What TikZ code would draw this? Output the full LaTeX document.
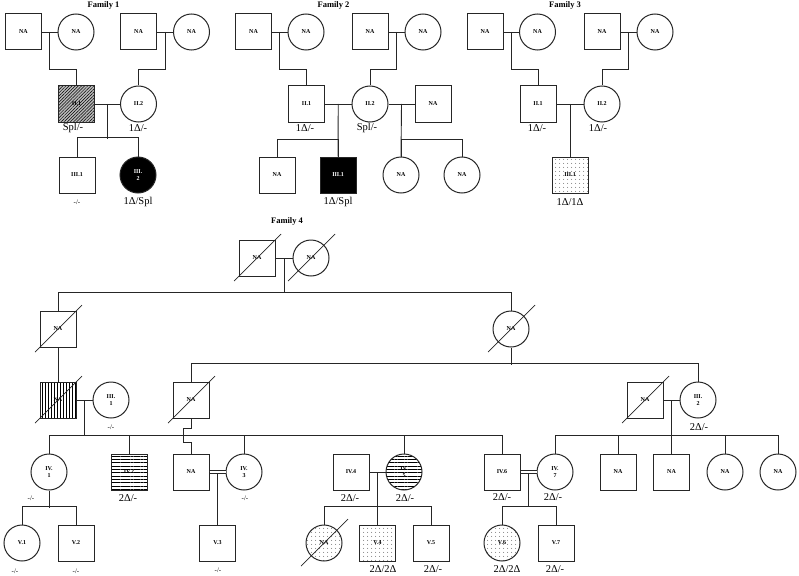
\documentclass[tikz,border=0pt]{standalone}
\usepackage{fontspec}
\setmainfont{Liberation Serif}
\usetikzlibrary{calc, patterns.meta, positioning}
\newcommand{\nafont}{\fontsize{6}{6.5}\selectfont\bfseries}
\newcommand{\genofont}{\fontsize{10.5}{12}\selectfont}
\newcommand{\deadmark}[1]{\draw[line width=0.7pt] ($(#1.center)+(-23,23)$) -- ($(#1.center)+(24,-24)$);}
\tikzset{
  every picture/.style={line width=0.9pt, draw=black!85},
  male/.style={draw, line width=1pt, rectangle, minimum size=36pt, inner sep=0pt, align=center, font=\nafont},
  female/.style={draw, line width=1pt, circle, minimum size=36pt, inner sep=0pt, align=center, font=\nafont},
  plain/.style={},
  dark/.style={fill=black, text=white},
  slant/.style={preaction={fill=gray!55}, pattern={Lines[angle=45, distance=2.2pt, line width=0.5pt]}},
  vlines/.style={pattern={Lines[angle=90, distance=3pt, line width=0.7pt]}},
  hlines/.style={pattern={Lines[angle=0, distance=3.3pt, line width=0.7pt]}},
  speckle/.style={pattern={Dots[distance=4pt, radius=0.45pt]}},
  geno/.style={font=\genofont},
  minus/.style={font=\fontsize{7}{8}\selectfont},
  title/.style={font=\fontsize{8.5}{10}\selectfont\bfseries},
  couple/.style={double, double distance=2.6pt},
}
\begin{document}
\begin{tikzpicture}[x=1pt, y=-1pt]
  \useasboundingbox (0,0) rectangle (799,575);
  % families 1-3: grandparents and parents
  \foreach \f/\xa/\xb/\s in {1/23.5/138.5/slant, 2/253.5/370/plain, 3/485/602/plain} {
    \node[title] (t\f) at (\xa+80,5) {Family \f};
    \node[male] (a\f) at (\xa,32) {NA};
    \node[female] (b\f) at (\xa+52.5,32) {NA};
    \node[male] (c\f) at (\xb,32) {NA};
    \node[female] (d\f) at (\xb+53,32) {NA};
    \draw (a\f) -- (b\f);
    \draw (c\f) -- (d\f);
    \node[male, \s] (p\f) at (\xa+53,104) {II.1};
    \node[female] (q\f) at (\xb,104) {II.2};
    \draw (p\f) -- (q\f);
    \draw ($(a\f.east)!0.5!(b\f.west)$) -- ++(0,37) -| (p\f.north);
    \draw ($(c\f.east)!0.5!(d\f.west)$) -- ++(0,37) -| (q\f.north);
  }
  % family 1
  \node[male] (r1) at (77,175) {III.1};
  \node[female, dark] (r2) at (138,175) {III.\\2};
  \coordinate (s1) at ($(p1.east)!0.5!(q1.west)$);
  \draw (s1) -- ++(0,35);
  \draw (r1.north) -- ++(0,-19) -| (r2.north);
  \node[geno] (u1) at (73,128) {Spl/-};
  \node[geno] (u2) at (138,128) {1Δ/-};
  \node[minus] (u3) at (77,202) {-/-};
  \node[geno] (u4) at (138,202) {1Δ/Spl};
  % family 2
  \node[male] (e2) at (433,104) {NA};
  \draw (q2) -- (e2);
  \node[male] (r3) at (277,175) {NA};
  \node[male, dark] (r4) at (338,175) {III.1};
  \coordinate (s2) at ($(p2.east)!0.5!(q2.west)$);
  \draw (s2) -- (r4.north);
  \draw (r3.north) -- ++(0,-17) -| (r4.north);
  \node[female] (r5) at (401,175) {NA};
  \node[female] (r6) at (462,175) {NA};
  \coordinate (s3) at ($(q2.east)!0.5!(e2.west)$);
  \draw (s3) -- (r5.north);
  \draw (r5.north) -- ++(0,-17) -| (r6.north);
  \node[geno] (u5) at (305,128) {1Δ/-};
  \node[geno] (u6) at (367,128) {Spl/-};
  \node[geno] (u7) at (338,202) {1Δ/Spl};
  % family 3
  \node[male, speckle] (r7) at (570,175) {III.1};
  \coordinate (s4) at ($(p3.east)!0.5!(q3.west)$);
  \draw (s4) -- (r7.north);
  \node[geno] (u8) at (537,128) {1Δ/-};
  \node[geno] (u9) at (598,128) {1Δ/-};
  \node[geno] (u10) at (570,202) {1Δ/1Δ};

  % family 4
  \node[title] (t4) at (287,221) {Family 4};
  \node[male] (g1) at (257,258) {NA};
  \node[female] (g2) at (311,258) {NA};
  \draw (g1) -- (g2);
  \coordinate (j1) at ($(g1.east)!0.5!(g2.west)$);
  \draw (j1) -- ++(0,35);
  \node[male] (h1) at (58,329) {NA};
  \node[female] (h2) at (511,329) {NA};
  \draw (h1.north) -- ++(0,-18) -| (h2.north);
  % generation III
  \node[male, vlines] (k1) at (58,400) {NA};
  \node[female] (k2) at (111,400) {III.\\1};
  \node[male] (k3) at (191,400) {NA};
  \node[male] (k4) at (645,400) {NA};
  \node[female] (k5) at (698,400) {III.\\2};
  \draw (h1) -- (k1);
  \draw (h2.south) -- ++(0,17);
  \draw (k3.north) -- ++(0,-18) -| (k5.north);
  \draw (k1) -- (k2);
  \draw (k4) -- (k5);
  \node[minus] (l1) at (111,427) {-/-};
  \node[geno] (l2) at (699,427) {2Δ/-};
  % generation IV
  \node[female] (m1) at (49,472) {IV.\\1};
  \node[male, hlines] (m2) at (129,472) {IV.2};
  \node[male] (m3) at (191,472) {NA};
  \node[female] (m4) at (244,472) {IV.\\3};
  \node[male] (m5) at (351,472) {IV.4};
  \node[female, hlines] (m6) at (404,472) {IV.\\5};
  \node[male] (m7) at (502,472) {IV.6};
  \node[female] (m8) at (555,472) {IV.\\7};
  \node[male] (m9) at (618,472) {NA};
  \node[male] (m10) at (671.5,472) {NA};
  \node[female] (m11) at (725,472) {NA};
  \node[female] (m12) at (778,472) {NA};
  \coordinate (j2) at ($(k1.east)!0.5!(k2.west)$);
  \draw (j2) -- ++(0,36);
  \draw (m1.north) -- ++(0,-18) -| (m7.north);
  \foreach \n in {m2, m4, m6} \draw (\n.north) -- ++(0,-18);
  \draw (k3.south) -- ++(0,10) -- ++(-8,0) -- ++(0,14) -- ++(8,0) -- (m3.north);
  \coordinate (j3) at ($(k4.east)!0.5!(k5.west)$);
  \draw (j3) -- (m10.north);
  \draw (m8.north) -- ++(0,-18) -| (m12.north);
  \foreach \n in {m9, m11} \draw (\n.north) -- ++(0,-18);
  \node[minus] (l3) at (31,498) {-/-};
  \node[geno] (l4) at (128,498) {2Δ/-};
  \node[minus] (l5) at (245,498) {-/-};
  \node[geno] (l6) at (350,498) {2Δ/-};
  \node[geno] (l7) at (405,498) {2Δ/-};
  \node[geno] (l8) at (502,497) {2Δ/-};
  \node[geno] (l9) at (553,497) {2Δ/-};
  % generation V
  \node[female] (n1) at (22,543) {V.1};
  \node[male] (n2) at (76,543) {V.2};
  \node[male] (n3) at (217.5,543) {V.3};
  \node[female, speckle] (n4) at (324,543) {NA};
  \node[male, speckle] (n5) at (377.5,543) {V.4};
  \node[male] (n6) at (431,543) {V.5};
  \node[female, speckle] (n7) at (502,543) {V.6};
  \node[male] (n8) at (556,543) {V.7};
  \draw (m1.south) -- ++(0,17);
  \draw (n1.north) -- ++(0,-18) -| (n2.north);
  \coordinate (j4) at ($(m3.east)!0.5!(m4.west)$);
  \draw (j4) -- (n3.north);
  \draw[couple] (m3) -- (m4);
  \coordinate (j5) at ($(m5.east)!0.5!(m6.west)$);
  \draw (j5) -- (n5.north);
  \draw (m5) -- (m6);
  \draw (n4.north) -- ++(0,-18) -| (n6.north);
  \coordinate (j6) at ($(m7.east)!0.5!(m8.west)$);
  \draw (j6) -- ++(0,35);
  \draw[couple] (m7) -- (m8);
  \draw (n7.north) -- ++(0,-18) -| (n8.north);
  \node[minus] (v1) at (15,571) {-/-};
  \node[minus] (v2) at (76,571) {-/-};
  \node[minus] (v3) at (218,570) {-/-};
  \node[geno] (v4) at (383,569) {2Δ/2Δ};
  \node[geno] (v5) at (433,569) {2Δ/-};
  \node[geno] (v6) at (507,569) {2Δ/2Δ};
  \node[geno] (v7) at (555,569) {2Δ/-};
  % deceased
  \foreach \n in {g1, g2, h1, h2, k1, k3, k4, n4} {\deadmark{\n}}
\end{tikzpicture}
\end{document}
